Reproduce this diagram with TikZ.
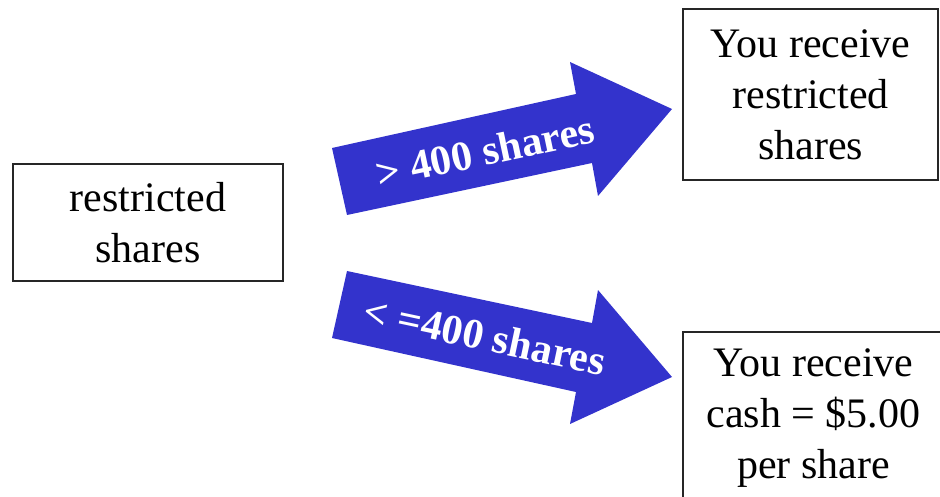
\documentclass[tikz,border=0pt]{standalone}
\usepackage{fontspec}
\setmainfont{Liberation Serif}
\definecolor{arrowblue}{RGB}{51,51,204}
\begin{document}
\begin{tikzpicture}[x=1pt,y=-1pt,
  box/.style={draw=black!85, line width=1.3pt, align=center, inner sep=0pt,
    font=\fontsize{42}{51}\selectfont},
  blockarrow/.style={fill=arrowblue},
  arrowtext/.style={text=white, inner sep=0pt,
    font=\fontsize{42}{50}\selectfont\bfseries}]
\useasboundingbox (0,0) rectangle (940,497);

% source box
\node[box, minimum width=270pt, minimum height=117pt] (src) at (148,222.5)
  {restricted\\shares};

% outcome boxes
\node[box, minimum width=255pt, minimum height=171pt] (more) at (810.5,94.5)
  {You receive\\restricted\\shares};
\node[box, minimum width=261pt, minimum height=172pt] (less) at (813.5,418)
  {You receive\\cash = \$5.00\\per share};

% upper block arrow
\path[blockarrow] (332,148) -- (576,94) -- (570,62) -- (672,109)
  -- (598,196) -- (592,163) -- (347,215) -- cycle;
\node[arrowtext, rotate=12] (uplabel) at (485,151) {> 400 shares};

% lower block arrow
\path[blockarrow] (332,338) -- (576,392) -- (570,424) -- (672,377)
  -- (598,290) -- (592,323) -- (347,271) -- cycle;
\node[arrowtext, rotate=-12] (downlabel) at (485,336) {< =400 shares};
\end{tikzpicture}
\end{document}
